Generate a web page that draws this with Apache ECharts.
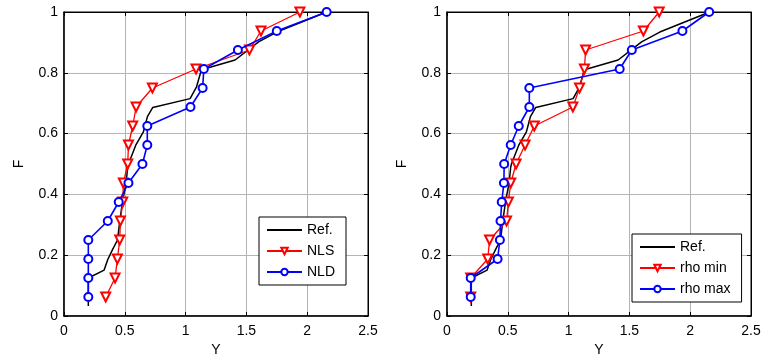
<!DOCTYPE html>
<html>
<head>
<meta charset="utf-8">
<script src="https://cdn.jsdelivr.net/npm/echarts@6/dist/echarts.min.js"></script>
<style>
html,body{margin:0;padding:0;background:#fff;}
#c{width:763px;height:355px;}
</style>
</head>
<body>
<div id="c"></div>
<script>
// Reference curve (same in both panels)
var refY = [0.2, 0.2, 0.33, 0.36, 0.40, 0.44, 0.46, 0.483, 0.51, 0.524, 0.53, 0.59, 0.653, 0.686, 0.73, 1.037, 1.09, 1.13, 1.407, 1.6, 1.75, 2.16];
var refF = [0.033, 0.125, 0.151, 0.186, 0.219, 0.25, 0.316, 0.38, 0.436, 0.49, 0.5, 0.562, 0.606, 0.656, 0.686, 0.715, 0.754, 0.81, 0.842, 0.902, 0.934, 1.0];

// Empirical F levels (k/16)
var levelsF = [0.0625, 0.125, 0.1875, 0.25, 0.3125, 0.375, 0.4375, 0.5, 0.5625, 0.625, 0.6875, 0.75, 0.8125, 0.875, 0.9375, 1.0];

// Left panel
var nlsY = [0.343, 0.42, 0.439, 0.458, 0.464, 0.483, 0.488, 0.524, 0.53, 0.565, 0.593, 0.727, 1.086, 1.525, 1.62, 1.94];
var nldY = [0.2, 0.2, 0.2, 0.2, 0.36, 0.45, 0.53, 0.645, 0.685, 0.685, 1.04, 1.14, 1.15, 1.43, 1.75, 2.16];

// Right panel
var rhoMinY = [0.195, 0.195, 0.335, 0.35, 0.49, 0.505, 0.524, 0.568, 0.642, 0.718, 1.035, 1.09, 1.13, 1.14, 1.615, 1.745];
var rhoMaxY = [0.195, 0.195, 0.416, 0.435, 0.44, 0.45, 0.468, 0.47, 0.524, 0.59, 0.677, 0.677, 1.42, 1.52, 1.936, 2.156];

var xTicks = {min: 0, max: 2.5, interval: 0.5};
var yTicks = {min: 0, max: 1, interval: 0.2};

function zip(xs, ys) { return xs.map(function (x, i) { return [x, ys[i]]; }); }

var FONT = 'Liberation Sans, Arial, sans-serif';

function mainX(gi) {
  return {
    gridIndex: gi, type: 'value', min: xTicks.min, max: xTicks.max, interval: xTicks.interval,
    position: 'bottom',
    name: 'Y', nameLocation: 'middle', nameGap: 26,
    nameTextStyle: {fontFamily: FONT, fontSize: 14, color: '#000'},
    axisLine: {onZero: false, lineStyle: {color: '#000', width: 1.5}},
    axisTick: {inside: true, length: 4, lineStyle: {color: '#000'}},
    axisLabel: {fontFamily: FONT, fontSize: 14, color: '#000', margin: 8},
    splitLine: {show: true, lineStyle: {color: '#b4b4b4', width: 1}}
  };
}
function topX(gi) {
  return {
    gridIndex: gi, type: 'value', min: xTicks.min, max: xTicks.max, interval: xTicks.interval,
    position: 'top',
    axisLine: {onZero: false, lineStyle: {color: '#000', width: 1}},
    axisTick: {inside: true, length: 4, lineStyle: {color: '#000'}},
    axisLabel: {show: false}, splitLine: {show: false}
  };
}
function mainY(gi) {
  return {
    gridIndex: gi, type: 'value', min: yTicks.min, max: yTicks.max, interval: yTicks.interval,
    position: 'left',
    name: 'F', nameLocation: 'middle', nameGap: 38,
    nameTextStyle: {fontFamily: FONT, fontSize: 14, color: '#000'},
    axisLine: {onZero: false, lineStyle: {color: '#000', width: 1.5}},
    axisTick: {inside: true, length: 4, lineStyle: {color: '#000'}},
    axisLabel: {fontFamily: FONT, fontSize: 14, color: '#000', margin: 6},
    splitLine: {show: true, lineStyle: {color: '#b4b4b4', width: 1}}
  };
}
function rightY(gi) {
  return {
    gridIndex: gi, type: 'value', min: yTicks.min, max: yTicks.max, interval: yTicks.interval,
    position: 'right',
    axisLine: {onZero: false, lineStyle: {color: '#000', width: 1}},
    axisTick: {inside: true, length: 4, lineStyle: {color: '#000'}},
    axisLabel: {show: false}, splitLine: {show: false}
  };
}

function refSeries(name, ai) {
  return {
    name: name, type: 'line', xAxisIndex: ai, yAxisIndex: ai,
    data: zip(refY, refF), showSymbol: false, symbol: 'none',
    lineStyle: {color: '#000', width: 1.5}, itemStyle: {color: '#000'},
    z: 2
  };
}
function triSeries(name, ai, ys) {
  return {
    name: name, type: 'line', xAxisIndex: ai, yAxisIndex: ai,
    data: zip(ys, levelsF), symbol: 'emptyTriangle', symbolRotate: 180, symbolSize: 9,
    lineStyle: {color: '#ff0000', width: 1.3}, itemStyle: {color: '#ff0000', borderWidth: 1.3},
    z: 3
  };
}
function circSeries(name, ai, ys) {
  return {
    name: name, type: 'line', xAxisIndex: ai, yAxisIndex: ai,
    data: zip(ys, levelsF), symbol: 'emptyCircle', symbolSize: 8,
    lineStyle: {color: '#0000ff', width: 1.6}, itemStyle: {color: '#0000ff', borderWidth: 1.5},
    z: 4
  };
}

function legendBox(left, top, names) {
  return {
    orient: 'vertical', left: left, top: top,
    data: names.map(function (n, i) {
      return i === 0 ? {name: n, itemStyle: {opacity: 0}} : {name: n};
    }),
    itemWidth: 35, itemHeight: 8, itemGap: 7,
    padding: [6, 11, 6, 7],
    borderColor: '#000', borderWidth: 1, borderRadius: 0, backgroundColor: '#fff',
    textStyle: {fontFamily: FONT, fontSize: 14, color: '#000'},
    selectedMode: false
  };
}

var option = {
  animation: false,
  backgroundColor: '#fff',
  grid: [
    {left: 64, right: 395, top: 12, bottom: 39, show: true, borderColor: '#000', borderWidth: 1, containLabel: false, outerBoundsMode: 'none'},
    {left: 447, right: 12, top: 12, bottom: 39, show: true, borderColor: '#000', borderWidth: 1, containLabel: false, outerBoundsMode: 'none'}
  ],
  xAxis: [mainX(0), mainX(1), topX(0), topX(1)],
  yAxis: [mainY(0), mainY(1), rightY(0), rightY(1)],
  legend: [
    legendBox(259, 217, ['Ref.', 'NLS', 'NLD']),
    legendBox(632, 234, ['Ref. ', 'rho min', 'rho max'])
  ],
  series: [
    refSeries('Ref.', 0),
    triSeries('NLS', 0, nlsY),
    circSeries('NLD', 0, nldY),
    refSeries('Ref. ', 1),
    triSeries('rho min', 1, rhoMinY),
    circSeries('rho max', 1, rhoMaxY)
  ]
};

var chart = echarts.init(document.getElementById('c'), null, {renderer: 'canvas'});
chart.setOption(option);
</script>
</body>
</html>
